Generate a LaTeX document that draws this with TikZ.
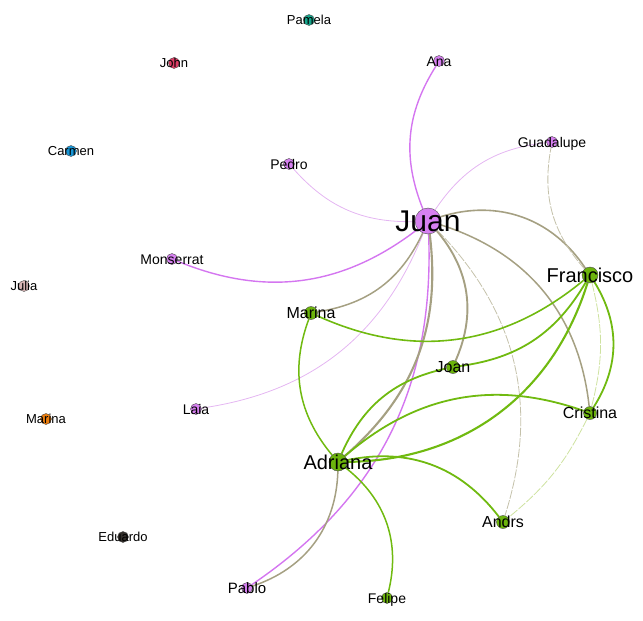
\documentclass[tikz,border=0pt]{standalone}
\usepackage{fontspec}
\setmainfont{Liberation Sans}
\usetikzlibrary{backgrounds}
\definecolor{vio}{RGB}{214,128,240}
\definecolor{vioedge}{RGB}{212,118,240}
\definecolor{violight}{RGB}{228,182,242}
\definecolor{grn}{RGB}{108,180,12}
\definecolor{grnedge}{RGB}{112,186,16}
\definecolor{olv}{RGB}{165,160,130}
\definecolor{olvlight}{RGB}{196,193,170}
\definecolor{ylight}{RGB}{206,226,160}
\definecolor{teal}{RGB}{22,165,140}
\definecolor{crimson}{RGB}{222,62,102}
\definecolor{skyb}{RGB}{22,150,215}
\definecolor{rosy}{RGB}{214,180,180}
\definecolor{orng}{RGB}{236,126,14}
\definecolor{dark}{RGB}{50,46,42}
\tikzset{
  nd/.style={circle, draw=black!70, line width=0.4pt, inner sep=0pt, minimum size=11pt},
  vn/.style={nd, fill=vio},
  gn/.style={nd, fill=grn, minimum size=13pt},
  lab/.style={text=black, inner sep=0pt, text depth=0pt},
  s13/.style={lab, font=\fontsize{13}{13}\selectfont, text height=9.3pt},
  s14/.style={lab, font=\fontsize{14}{14}\selectfont, text height=10pt},
  s15/.style={lab, font=\fontsize{15}{15}\selectfont, text height=10.7pt},
  s16/.style={lab, font=\fontsize{16}{16}\selectfont, text height=11.5pt},
  s20/.style={lab, font=\fontsize{20}{20}\selectfont, text height=14.3pt},
  s30/.style={lab, font=\fontsize{30}{30}\selectfont, text height=21.5pt},
  ev/.style={draw=vioedge, line width=1.4pt},
  evl/.style={draw=violight, line width=0.8pt},
  eo/.style={draw=olv, line width=1.6pt},
  eol/.style={draw=olvlight, line width=0.8pt, dash pattern=on 9pt off 1.5pt},
  eg/.style={draw=grnedge, line width=1.8pt},
  eyl/.style={draw=ylight, line width=0.8pt, dash pattern=on 9pt off 1.5pt},
}
\begin{document}
\begin{tikzpicture}[x=1pt, y=1pt]
\useasboundingbox (0,0) rectangle (643,-621);
% nodes
\node[nd, fill=teal, label={[s13]center:Pamela}] (pamela) at (309,-20) {};
\node[nd, fill=crimson, label={[s13]center:John}] (john) at (174,-63) {};
\node[vn, label={[s14]center:Ana}] (ana) at (439,-61) {};
\node[nd, fill=skyb, label={[s13]center:Carmen}] (carmen) at (71,-151) {};
\node[vn, label={[s14]center:Pedro}] (pedro) at (289,-164) {};
\node[vn, label={[s14]center:Guadalupe}] (guad) at (552,-142) {};
\node[vn, minimum size=26pt, label={[s30]center:Juan}] (juan) at (428,-221) {};
\node[vn, label={[s14]center:Monserrat}] (mons) at (172,-259) {};
\node[nd, fill=rosy, label={[s13]center:Julia}] (julia) at (24,-286) {};
\node[gn, minimum size=16pt, label={[s20]center:Francisco}] (fran) at (590,-275) {};
\node[gn, label={[s16]center:Marina}] (marina) at (311,-313) {};
\node[gn, label={[s16]center:Joan}] (joan) at (453,-367) {};
\node[vn, label={[s14]center:Laia}] (laia) at (196,-409) {};
\node[nd, fill=orng, label={[s13]center:Marina}] (marinao) at (46,-419) {};
\node[gn, label={[s16]center:Cristina}] (cris) at (590,-413) {};
\node[gn, minimum size=18pt, label={[s20]center:Adriana}] (adri) at (338,-462) {};
\node[gn, label={[s16]center:Andrs}] (andrs) at (503,-522) {};
\node[nd, fill=dark, label={[s13]center:Eduardo}] (edu) at (123,-537) {};
\node[vn, label={[s15]center:Pablo}] (pablo) at (247,-588) {};
\node[gn, minimum size=11pt, label={[s14]center:Felipe}] (felipe) at (387,-598) {};
% edges
\begin{scope}[on background layer]
\draw[ev]  (juan) to[bend left=27] (ana);
\draw[evl] (juan) to[bend left=25] (guad);
\draw[evl] (juan) to[bend left=25] (pedro);
\draw[ev]  (juan) to[bend left=30] (mons);
\draw[evl] (juan) to[bend left=30] (laia);
\draw[ev]  (juan) to[bend left=29] (pablo);
\draw[eo, line width=1.5pt] (juan) to[bend left=28] (marina);
\draw[eo]  (juan) to[bend left=37] (fran);
\draw[eo, line width=1.5pt] (juan) to[bend left=33] (cris);
\draw[eo, line width=1.9pt] (juan) to[bend left=32] (joan);
\draw[eo, line width=2.1pt] (juan) to[bend left=28] (adri);
\draw[eol] (juan) to[bend left=31] (andrs);
\draw[eo, line width=1.5pt] (adri) to[bend left=35] (pablo);
\draw[eol] (fran) to[bend left=26] (guad);
\draw[eg]  (fran) to[bend left=32] (cris);
\draw[eyl] (fran) to[bend left=14] (cris);
\draw[eyl] (cris) to[bend left=12] (andrs);
\draw[eg, line width=1.6pt] (fran) to[bend left=32] (marina);
\draw[eg, line width=1.5pt] (adri) to[bend left=30] (marina);
\draw[eg]  (fran) to[bend left=26] (joan);
\draw[eg]  (adri) to[bend left=27] (joan);
\draw[eg]  (adri) to[bend left=30] (cris);
\draw[eg, line width=2.1pt] (fran) to[bend left=36] (adri);
\draw[eg]  (adri) to[bend left=32] (andrs);
\draw[eg, line width=1.5pt] (adri) to[bend left=33] (felipe);
\end{scope}
\end{tikzpicture}
\end{document}
